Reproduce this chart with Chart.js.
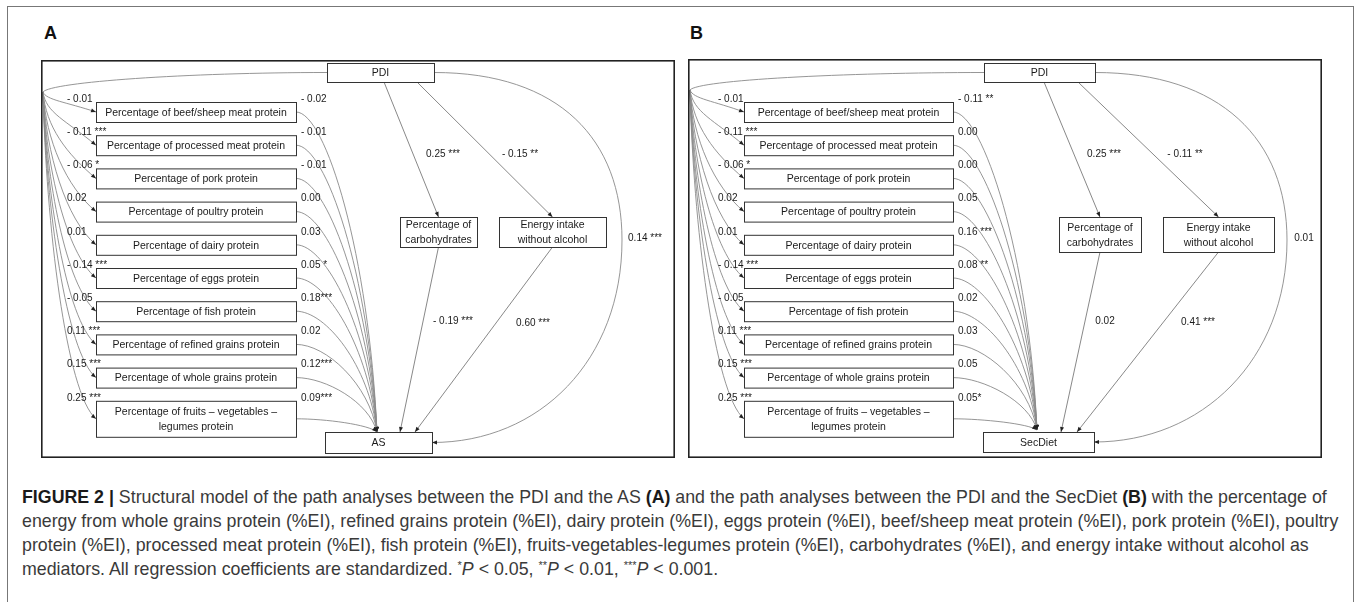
<!DOCTYPE html>
<html>
<head>
<meta charset="utf-8">
<script src="https://cdn.jsdelivr.net/npm/chart.js@4.4.1/dist/chart.umd.min.js"></script>
<style>
  body { margin: 0; background: #fff; width: 1357px; height: 602px; overflow: hidden; position: relative; font-family: "Liberation Sans", Arial, sans-serif; }
  #frame { position: absolute; left: 7px; top: 6px; width: 1345px; height: 610px; border: 1.5px solid #777; border-bottom: none; }
  .letter { position: absolute; font-weight: bold; font-size: 18px; color: #111; line-height: 18px; }
  .panel { position: absolute; }
  #caption { position: absolute; left: 22px; top: 485px; font-size: 17.8px; line-height: 24px; color: #3a3a3a; }
  #caption div { white-space: nowrap; }
  #caption b { color: #1a1a1a; }
  #caption sup { font-size: 11px; line-height: 0; vertical-align: 6px; }
</style>
</head>
<body>
<div id="frame"></div>
<div class="letter" style="left:44px;top:24px;">A</div>
<div class="letter" style="left:690px;top:24px;">B</div>
<div class="panel" style="left:41px;top:60px;width:634px;height:398px;"><canvas id="chartA"></canvas></div>
<div class="panel" style="left:688px;top:59px;width:634px;height:399px;"><canvas id="chartB"></canvas></div>
<div id="caption">
  <div><b>FIGURE 2 |</b> Structural model of the path analyses between the PDI and the AS <b>(A)</b> and the path analyses between the PDI and the SecDiet <b>(B)</b> with the percentage of</div>
  <div>energy from whole grains protein (%EI), refined grains protein (%EI), dairy protein (%EI), eggs protein (%EI), beef/sheep meat protein (%EI), pork protein (%EI), poultry</div>
  <div>protein (%EI), processed meat protein (%EI), fish protein (%EI), fruits-vegetables-legumes protein (%EI), carbohydrates (%EI), and energy intake without alcohol as</div>
  <div>mediators. All regression coefficients are standardized. <sup>*</sup><i>P</i> &lt; 0.05, <sup>**</sup><i>P</i> &lt; 0.01, <sup>***</sup><i>P</i> &lt; 0.001.</div>
</div>
<script>
const exposure = "PDI";
const outcomes = ["AS", "SecDiet"];
const mediators = [
  "Percentage of beef/sheep meat protein",
  "Percentage of processed meat protein",
  "Percentage of pork protein",
  "Percentage of poultry protein",
  "Percentage of dairy protein",
  "Percentage of eggs protein",
  "Percentage of fish protein",
  "Percentage of refined grains protein",
  "Percentage of whole grains protein",
  "Percentage of fruits \u2013 vegetables \u2013\nlegumes protein"
];
const otherMediators = ["Percentage of\ncarbohydrates", "Energy intake\nwithout alcohol"];

// PDI -> protein mediators (same in both models)
const pdiToMediator = [-0.01, -0.11, -0.06, 0.02, 0.01, -0.14, -0.05, 0.11, 0.15, 0.25];
const pdiToMediatorSig = ["", " ***", " *", "", "", " ***", "", " ***", " ***", " ***"];

// protein mediators -> outcome
const mediatorToAS = [-0.02, -0.01, -0.01, 0.00, 0.03, 0.05, 0.18, 0.02, 0.12, 0.09];
const mediatorToASSig = ["", "", "", "", "", " *", "***", "", "***", "***"];
const mediatorToSecDiet = [-0.11, 0.00, 0.00, 0.05, 0.16, 0.08, 0.02, 0.03, 0.05, 0.05];
const mediatorToSecDietSig = [" **", "", "", "", " ***", " **", "", "", "", "*"];

// PDI->carb, PDI->energy, carb->outcome, energy->outcome, PDI->outcome
const otherPathsAS = [0.25, -0.15, -0.19, 0.60, 0.14];
const otherPathsASSig = [" ***", " **", " ***", " ***", " ***"];
const otherPathsSecDiet = [0.25, -0.11, 0.02, 0.41, 0.01];
const otherPathsSecDietSig = [" ***", " **", "", " ***", ""];

function fmt(v, sig) {
  return (v < 0 ? "- " : "") + Math.abs(v).toFixed(2) + sig;
}

// panel layouts, in panel units
const layoutA = {
  w: 634, h: 398,
  pdi: [286, 3, 393, 22], itemX: [55, 255], itemTop: 42, itemStep: 33.2, itemH: 20, lastH: 36,
  carb: [359, 157, 436, 187], energy: [458, 157, 565, 187], out: [284, 372, 391, 393],
  fan: [2, 32], conv: [336, 372], carbIn: 359, energyIn: 374, pdiCarbOut: 343, pdiEnergyOut: 376,
  arcMax: [581, 180], labelL: 26, labelR: 260,
  midLabels: [[402, 94], [479, 94], [412, 261], [492, 263], [604, 178]]
};
const layoutB = {
  w: 634, h: 399,
  pdi: [296, 4, 407, 23], itemX: [56, 265], itemTop: 43, itemStep: 33.2, itemH: 20, lastH: 36,
  carb: [371, 158, 453, 193], energy: [475, 158, 586, 193], out: [295, 373, 406, 393],
  fan: [2, 31], conv: [349, 371], carbIn: 373, energyIn: 389, pdiCarbOut: 356, pdiEnergyOut: 390,
  arcMax: [599, 181], labelL: 30, labelR: 270,
  midLabels: [[416, 95], [497, 95], [417, 262], [510, 263], [616, 179]]
};

function diagramPlugin(L, outcome, bVals, bSig, oVals, oSig) {
  return {
    id: "diagram",
    afterDraw(chart) {
      const ctx = chart.ctx;
      const X = v => chart.scales.x.getPixelForValue(v);
      const Y = v => chart.scales.y.getPixelForValue(v);
      const P = (x, y) => [X(x), Y(y)];

      function arrowHead(tip, from) {
        const a = Math.atan2(tip[1] - from[1], tip[0] - from[0]);
        ctx.beginPath();
        ctx.moveTo(tip[0], tip[1]);
        ctx.lineTo(tip[0] - 5 * Math.cos(a) + 2 * Math.sin(a), tip[1] - 5 * Math.sin(a) - 2 * Math.cos(a));
        ctx.lineTo(tip[0] - 5 * Math.cos(a) - 2 * Math.sin(a), tip[1] - 5 * Math.sin(a) + 2 * Math.cos(a));
        ctx.closePath();
        ctx.fillStyle = "#222";
        ctx.fill();
      }
      function curve(p0, p1, p2, p3, arrow) {
        ctx.beginPath();
        ctx.moveTo(p0[0], p0[1]);
        ctx.bezierCurveTo(p1[0], p1[1], p2[0], p2[1], p3[0], p3[1]);
        ctx.strokeStyle = "#8a8a8a";
        ctx.lineWidth = 0.9;
        ctx.stroke();
        if (arrow) arrowHead(p3, p2);
      }
      function line(p0, p1) {
        ctx.beginPath();
        ctx.moveTo(p0[0], p0[1]);
        ctx.lineTo(p1[0], p1[1]);
        ctx.strokeStyle = "#7a7a7a";
        ctx.lineWidth = 0.9;
        ctx.stroke();
        arrowHead(p1, p0);
      }
      function box(b, text) {
        const x0 = X(b[0]), y0 = Y(b[1]), x1 = X(b[2]), y1 = Y(b[3]);
        ctx.fillStyle = "#fff";
        ctx.fillRect(x0, y0, x1 - x0, y1 - y0);
        ctx.strokeStyle = "#333";
        ctx.lineWidth = 1;
        ctx.strokeRect(x0 + 0.5, y0 + 0.5, x1 - x0, y1 - y0);
        const lines = text.split("\n");
        ctx.font = "10.5px 'Liberation Sans', Arial, sans-serif";
        ctx.fillStyle = "#1a1a1a";
        ctx.textAlign = "center";
        ctx.textBaseline = "middle";
        const cy = (y0 + y1) / 2 + 1, lh = 15;
        lines.forEach((t, k) => {
          ctx.fillText(t, (x0 + x1) / 2, cy + (k - (lines.length - 1) / 2) * lh, x1 - x0 - 6);
        });
      }
      function label(t, x, y, align) {
        ctx.font = "10px 'Liberation Sans', Arial, sans-serif";
        ctx.fillStyle = "#1a1a1a";
        ctx.textAlign = align;
        ctx.textBaseline = "middle";
        ctx.fillText(t, X(x), Y(y));
      }

      const top = i => L.itemTop + i * L.itemStep;
      const hgt = i => (i === mediators.length - 1 ? L.lastH : L.itemH);
      const cyOf = i => top(i) + hgt(i) / 2;
      const pdiMidY = (L.pdi[1] + L.pdi[3]) / 2;
      const outMidY = (L.out[1] + L.out[3]) / 2;

      // PDI to the left fan point
      curve(P(L.pdi[0], pdiMidY), P(L.pdi[0] - 140, pdiMidY), P(L.fan[0] + 8, L.fan[1] - 10), P(L.fan[0], L.fan[1]), false);

      mediators.forEach((m, i) => {
        const cy = cyOf(i), d = cy - L.fan[1];
        // PDI -> mediator
        curve(P(L.fan[0], L.fan[1]), P(L.fan[0] + 3, L.fan[1] + 0.4 * d),
          P(L.itemX[0] - 30, cy - Math.min(25, 0.5 * d)), P(L.itemX[0], cy), true);
        // mediator -> outcome
        curve(P(L.itemX[1], cy), P(L.itemX[1] + 30, cy),
          P(L.conv[0] - 8, cy + (L.conv[1] - cy) * 0.45), P(L.conv[0], L.conv[1]), true);
      });

      // other mediators
      const carbMid = (L.carb[0] + L.carb[2]) / 2, enMid = (L.energy[0] + L.energy[2]) / 2;
      line(P(L.pdiCarbOut, L.pdi[3]), P(carbMid, L.carb[1]));
      line(P(L.pdiEnergyOut, L.pdi[3]), P(enMid, L.energy[1]));
      line(P(carbMid, L.carb[3]), P(L.carbIn, L.out[1]));
      line(P(enMid, L.energy[3]), P(L.energyIn, L.out[1]));

      // direct PDI -> outcome arc
      const mx = L.arcMax[0], my = L.arcMax[1];
      curve(P(L.pdi[2], pdiMidY), P(L.pdi[2] + 126, pdiMidY), P(mx, my - 100), P(mx, my), false);
      curve(P(mx, my), P(mx, my + 120), P(L.out[2] + 108, outMidY), P(L.out[2], outMidY), true);

      // boxes
      box(L.pdi, exposure);
      mediators.forEach((m, i) => box([L.itemX[0], top(i), L.itemX[1], top(i) + hgt(i)], m));
      box(L.carb, otherMediators[0]);
      box(L.energy, otherMediators[1]);
      box(L.out, outcome);

      // coefficients
      mediators.forEach((m, i) => {
        label(fmt(pdiToMediator[i], pdiToMediatorSig[i]), L.labelL, top(i) - 3, "left");
        label(fmt(bVals[i], bSig[i]), L.labelR, top(i) - 3, "left");
      });
      L.midLabels.forEach((p, k) => label(fmt(oVals[k], oSig[k]), p[0], p[1], "center"));

      // panel border
      const a = chart.chartArea;
      ctx.strokeStyle = "#222";
      ctx.lineWidth = 1.6;
      ctx.strokeRect(a.left + 0.8, a.top + 0.8, a.right - a.left - 1.6, a.bottom - a.top - 1.6);
    }
  };
}

function makeChart(id, L, outcome, bVals, bSig, oVals, oSig) {
  const nodes = mediators.map((m, i) => ({ x: (L.itemX[0] + L.itemX[1]) / 2, y: L.itemTop + i * L.itemStep }));
  return new Chart(document.getElementById(id), {
    type: "scatter",
    data: { datasets: [{ data: nodes, pointRadius: 0 }] },
    options: {
      responsive: true,
      maintainAspectRatio: false,
      animation: false,
      layout: { padding: 0 },
      plugins: { legend: { display: false }, tooltip: { enabled: false } },
      scales: {
        x: { display: false, min: 0, max: L.w },
        y: { display: false, min: 0, max: L.h, reverse: true }
      }
    },
    plugins: [diagramPlugin(L, outcome, bVals, bSig, oVals, oSig)]
  });
}

makeChart("chartA", layoutA, outcomes[0], mediatorToAS, mediatorToASSig, otherPathsAS, otherPathsASSig);
makeChart("chartB", layoutB, outcomes[1], mediatorToSecDiet, mediatorToSecDietSig, otherPathsSecDiet, otherPathsSecDietSig);
</script>
</body>
</html>
